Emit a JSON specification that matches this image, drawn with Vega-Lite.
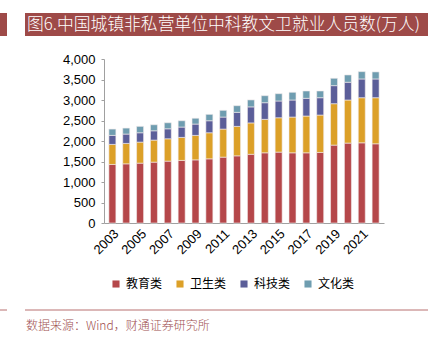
{
  "$schema": "https://vega.github.io/schema/vega-lite/v6.json",
  "autosize": {"type": "none"},
  "width": 280,
  "height": 164,
  "padding": {"left": 104, "top": 59, "right": 62, "bottom": 115},
  "background": "white",
  "config": {"view": {"stroke": null}, "font": "Liberation Sans"},
  "datasets": {
    "jobs": [
      {"year": 2003, "cat": "教育类", "v": 1428}, {"year": 2003, "cat": "卫生类", "v": 489}, {"year": 2003, "cat": "科技类", "v": 220}, {"year": 2003, "cat": "文化类", "v": 154},
      {"year": 2004, "cat": "教育类", "v": 1443}, {"year": 2004, "cat": "卫生类", "v": 498}, {"year": 2004, "cat": "科技类", "v": 228}, {"year": 2004, "cat": "文化类", "v": 146},
      {"year": 2005, "cat": "教育类", "v": 1460}, {"year": 2005, "cat": "卫生类", "v": 513}, {"year": 2005, "cat": "科技类", "v": 228}, {"year": 2005, "cat": "文化类", "v": 156},
      {"year": 2006, "cat": "教育类", "v": 1484}, {"year": 2006, "cat": "卫生类", "v": 538}, {"year": 2006, "cat": "科技类", "v": 227}, {"year": 2006, "cat": "文化类", "v": 147},
      {"year": 2007, "cat": "教育类", "v": 1509}, {"year": 2007, "cat": "卫生类", "v": 545}, {"year": 2007, "cat": "科技类", "v": 244}, {"year": 2007, "cat": "文化类", "v": 147},
      {"year": 2008, "cat": "教育类", "v": 1526}, {"year": 2008, "cat": "卫生类", "v": 562}, {"year": 2008, "cat": "科技类", "v": 252}, {"year": 2008, "cat": "文化类", "v": 154},
      {"year": 2009, "cat": "教育类", "v": 1540}, {"year": 2009, "cat": "卫生类", "v": 597}, {"year": 2009, "cat": "科技类", "v": 276}, {"year": 2009, "cat": "文化类", "v": 142},
      {"year": 2010, "cat": "教育类", "v": 1565}, {"year": 2010, "cat": "卫生类", "v": 636}, {"year": 2010, "cat": "科技类", "v": 293}, {"year": 2010, "cat": "文化类", "v": 156},
      {"year": 2011, "cat": "教育类", "v": 1606}, {"year": 2011, "cat": "卫生类", "v": 685}, {"year": 2011, "cat": "科技类", "v": 293}, {"year": 2011, "cat": "文化类", "v": 164},
      {"year": 2012, "cat": "教育类", "v": 1638}, {"year": 2012, "cat": "卫生类", "v": 719}, {"year": 2012, "cat": "科技类", "v": 342}, {"year": 2012, "cat": "文化类", "v": 162},
      {"year": 2013, "cat": "教育类", "v": 1676}, {"year": 2013, "cat": "卫生类", "v": 765}, {"year": 2013, "cat": "科技类", "v": 391}, {"year": 2013, "cat": "文化类", "v": 170},
      {"year": 2014, "cat": "教育类", "v": 1712}, {"year": 2014, "cat": "卫生类", "v": 816}, {"year": 2014, "cat": "科技类", "v": 406}, {"year": 2014, "cat": "文化类", "v": 171},
      {"year": 2015, "cat": "教育类", "v": 1729}, {"year": 2015, "cat": "卫生类", "v": 838}, {"year": 2015, "cat": "科技类", "v": 409}, {"year": 2015, "cat": "文化类", "v": 178},
      {"year": 2016, "cat": "教育类", "v": 1712}, {"year": 2016, "cat": "卫生类", "v": 872}, {"year": 2016, "cat": "科技类", "v": 416}, {"year": 2016, "cat": "文化类", "v": 188},
      {"year": 2017, "cat": "教育类", "v": 1712}, {"year": 2017, "cat": "卫生类", "v": 897}, {"year": 2017, "cat": "科技类", "v": 432}, {"year": 2017, "cat": "文化类", "v": 179},
      {"year": 2018, "cat": "教育类", "v": 1721}, {"year": 2018, "cat": "卫生类", "v": 912}, {"year": 2018, "cat": "科技类", "v": 423}, {"year": 2018, "cat": "文化类", "v": 164},
      {"year": 2019, "cat": "教育类", "v": 1900}, {"year": 2019, "cat": "卫生类", "v": 1010}, {"year": 2019, "cat": "科技类", "v": 440}, {"year": 2019, "cat": "文化类", "v": 180},
      {"year": 2020, "cat": "教育类", "v": 1949}, {"year": 2020, "cat": "卫生类", "v": 1051}, {"year": 2020, "cat": "科技类", "v": 433}, {"year": 2020, "cat": "文化类", "v": 178},
      {"year": 2021, "cat": "教育类", "v": 1956}, {"year": 2021, "cat": "卫生类", "v": 1100}, {"year": 2021, "cat": "科技类", "v": 457}, {"year": 2021, "cat": "文化类", "v": 179},
      {"year": 2022, "cat": "教育类", "v": 1932}, {"year": 2022, "cat": "卫生类", "v": 1124}, {"year": 2022, "cat": "科技类", "v": 457}, {"year": 2022, "cat": "文化类", "v": 172}
    ],
    "title": [{"t": "图6.中国城镇非私营单位中科教文卫就业人员数(万人)"}],
    "source": [{"t": "数据来源：Wind，财通证券研究所"}]
  },
  "layer": [
    {
      "data": {"name": "jobs"},
      "mark": {"type": "bar", "width": 7, "stroke": "#f3eded", "strokeWidth": 0.6},
      "encoding": {
        "x": {
          "field": "year", "type": "ordinal",
          "scale": {"paddingInner": 0.49, "paddingOuter": 0.35},
          "axis": {
            "title": null,
            "values": [2003, 2005, 2007, 2009, 2011, 2013, 2015, 2017, 2019, 2021],
            "labelAngle": -45, "labelFontSize": 13, "labelColor": "#000",
            "labelFont": "Liberation Sans",
            "ticks": false, "domainColor": "#a0a0a0", "labelPadding": 4
          }
        },
        "y": {
          "field": "v", "type": "quantitative", "stack": "zero",
          "scale": {"domain": [0, 4000]},
          "axis": {
            "title": null, "values": [0, 500, 1000, 1500, 2000, 2500, 3000, 3500, 4000], "format": ",.0f", "grid": false,
            "labelFontSize": 13, "labelColor": "#000", "labelFont": "Liberation Sans",
            "tickSize": 3, "tickColor": "#a0a0a0", "domainColor": "#a0a0a0", "labelPadding": 6
          }
        },
        "color": {
          "field": "cat", "type": "nominal",
          "scale": {
            "domain": ["教育类", "卫生类", "科技类", "文化类"],
            "range": ["#b5474a", "#dca028", "#5b5e99", "#6f9db0"]
          },
          "legend": {
            "title": null, "orient": "none", "direction": "horizontal",
            "legendX": 6, "legendY": 219,
            "symbolType": "square", "symbolSize": 50, "symbolStrokeWidth": 0,
            "labelFont": "Noto Sans CJK SC", "labelFontSize": 12, "labelColor": "#000",
            "columnPadding": 11, "labelOffset": 4
          }
        },
        "order": {"field": "year", "type": "quantitative"}
      }
    },
    {
      "data": {"name": "title"},
      "mark": {"type": "rect", "color": "#9e4a48"},
      "encoding": {"x": {"value": -79}, "x2": {"value": 324}, "y": {"value": -46}, "y2": {"value": -23}}
    },
    {
      "data": {"name": "title"},
      "mark": {"type": "rect", "color": "#9e4a48"},
      "encoding": {"x": {"value": -104}, "x2": {"value": -97}, "y": {"value": -46}, "y2": {"value": -23}}
    },
    {
      "data": {"name": "title"},
      "mark": {"type": "text", "align": "left", "baseline": "middle", "font": "Noto Sans CJK SC", "fontSize": 16.8, "fontWeight": 300, "color": "white"},
      "encoding": {"text": {"field": "t"}, "x": {"value": -77}, "y": {"value": -34.5}}
    },
    {
      "data": {"name": "source"},
      "mark": {"type": "rule", "color": "#b87070", "strokeWidth": 1},
      "encoding": {"x": {"value": -79}, "x2": {"value": 324}, "y": {"value": 251}}
    },
    {
      "data": {"name": "source"},
      "mark": {"type": "rule", "color": "#b87070", "strokeWidth": 1},
      "encoding": {"x": {"value": -104}, "x2": {"value": -97}, "y": {"value": 251}}
    },
    {
      "data": {"name": "source"},
      "mark": {"type": "text", "align": "left", "baseline": "middle", "font": "Noto Sans CJK SC", "fontSize": 12, "fontWeight": 300, "color": "#a05050"},
      "encoding": {"text": {"field": "t"}, "x": {"value": -78}, "y": {"value": 267}}
    }
  ]
}
